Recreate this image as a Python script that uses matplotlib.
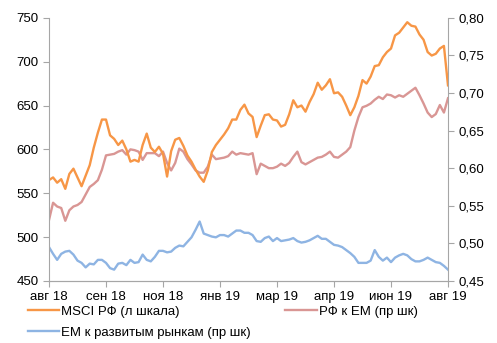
import matplotlib
matplotlib.use("Agg")
import matplotlib.pyplot as plt
from matplotlib.ticker import FuncFormatter

plt.rcParams['font.family'] = ['Liberation Sans', 'DejaVu Sans']
plt.rcParams['font.size'] = 9

# MSCI Russia, left scale
msci_ru = [565, 568, 562, 566, 555, 572, 578, 568, 558, 570,
           582, 602, 619, 634, 634, 616, 612, 605, 610, 600,
           586, 588, 586, 605, 618, 602, 597, 603, 595, 569,
           598, 611, 613, 604, 593, 586, 577, 569, 563, 576,
           597, 605, 611, 617, 624, 634, 634, 645, 651, 641,
           637, 614, 627, 639, 640, 634, 633, 626, 628, 640,
           656, 648, 650, 643, 654, 663, 676, 668, 673, 680,
           664, 665, 660, 650, 639, 648, 661, 679, 675, 683,
           695, 696, 705, 711, 715, 730, 733, 739, 745, 741,
           740, 731, 725, 711, 707, 709, 715, 718, 673]

# Russia vs EM, right scale
ru_vs_em = [0.531, 0.554, 0.549, 0.547, 0.530, 0.544, 0.549, 0.551, 0.555, 0.565,
            0.575, 0.579, 0.584, 0.598, 0.617, 0.618, 0.619, 0.622, 0.624, 0.618,
            0.625, 0.624, 0.622, 0.611, 0.620, 0.620, 0.620, 0.616, 0.622, 0.607,
            0.597, 0.607, 0.626, 0.622, 0.612, 0.605, 0.597, 0.594, 0.594, 0.602,
            0.618, 0.612, 0.613, 0.614, 0.616, 0.622, 0.618, 0.620, 0.619, 0.618,
            0.620, 0.592, 0.606, 0.603, 0.600, 0.600, 0.602, 0.606, 0.603, 0.607,
            0.615, 0.622, 0.608, 0.605, 0.608, 0.611, 0.614, 0.615, 0.618, 0.622,
            0.615, 0.614, 0.618, 0.622, 0.628, 0.650, 0.668, 0.681, 0.683, 0.686,
            0.691, 0.695, 0.692, 0.698, 0.697, 0.694, 0.697, 0.695, 0.699, 0.703,
            0.707, 0.697, 0.686, 0.674, 0.668, 0.672, 0.684, 0.674, 0.693]

# EM vs developed markets, right scale
em_vs_dm = [0.495, 0.486, 0.478, 0.486, 0.489, 0.490, 0.485, 0.477, 0.474, 0.468,
            0.473, 0.472, 0.478, 0.478, 0.474, 0.467, 0.465, 0.473, 0.474, 0.471,
            0.478, 0.474, 0.475, 0.485, 0.478, 0.476, 0.482, 0.490, 0.490, 0.488,
            0.489, 0.494, 0.497, 0.496, 0.502, 0.508, 0.518, 0.529, 0.513, 0.511,
            0.509, 0.508, 0.511, 0.511, 0.509, 0.513, 0.517, 0.517, 0.514, 0.514,
            0.511, 0.503, 0.502, 0.507, 0.509, 0.503, 0.507, 0.503, 0.504, 0.505,
            0.507, 0.503, 0.501, 0.502, 0.504, 0.507, 0.510, 0.506, 0.506, 0.502,
            0.498, 0.497, 0.495, 0.491, 0.487, 0.482, 0.474, 0.474, 0.474, 0.477,
            0.491, 0.482, 0.477, 0.481, 0.475, 0.481, 0.484, 0.486, 0.484, 0.479,
            0.476, 0.476, 0.478, 0.481, 0.478, 0.475, 0.474, 0.470, 0.465]

tick_labels = ["авг 18", "сен 18", "ноя 18", "янв 19", "мар 19", "апр 19", "июн 19", "авг 19"]
tick_step = 14

x = list(range(len(msci_ru)))

fig = plt.figure(figsize=(4.97, 3.43), dpi=100)
ax = fig.add_axes([0.0986, 0.181, 0.8028, 0.767])
ax2 = ax.twinx()

# right-scale series go underneath the MSCI line
ax2.set_zorder(ax.get_zorder() - 1)
ax.patch.set_visible(False)

l2, = ax2.plot(x, ru_vs_em, color='#D99694', lw=1.7, label="РФ к ЕМ (пр шк)")
l3, = ax2.plot(x, em_vs_dm, color='#8EB4E3', lw=1.7, label="ЕМ к развитым рынкам (пр шк)")
l1, = ax.plot(x, msci_ru, color='#F79646', lw=1.7, label="MSCI РФ (л шкала)")

ax.set_xlim(0, len(x) - 1)
ax.set_ylim(450, 750)
ax.set_yticks(range(450, 751, 50))
ax2.set_ylim(0.45, 0.80)
ax2.set_yticks([0.45, 0.50, 0.55, 0.60, 0.65, 0.70, 0.75, 0.80])
ax2.yaxis.set_major_formatter(FuncFormatter(lambda v, p: f"{v:.2f}".replace(".", ",")))

ax.set_xticks(range(0, len(x), tick_step))
ax.set_xticklabels(tick_labels)

for a in (ax, ax2):
    a.spines['top'].set_visible(False)
    for s in ('left', 'right', 'bottom'):
        a.spines[s].set_color('#A6A6A6')
    a.tick_params(colors='#A6A6A6', labelcolor='black', labelsize=9.5, length=4, direction='out')
ax.spines['right'].set_visible(False)
ax2.spines['left'].set_visible(False)

fig.legend(handles=[l1, l3, l2], ncol=2, loc='upper left', bbox_to_anchor=(0.056, 0.11),
           frameon=False, fontsize=9.5, handlelength=2.4, handletextpad=0.15,
           columnspacing=2.6, labelspacing=0.7, borderaxespad=0, borderpad=0)

fig.savefig("out.png", dpi=100)
